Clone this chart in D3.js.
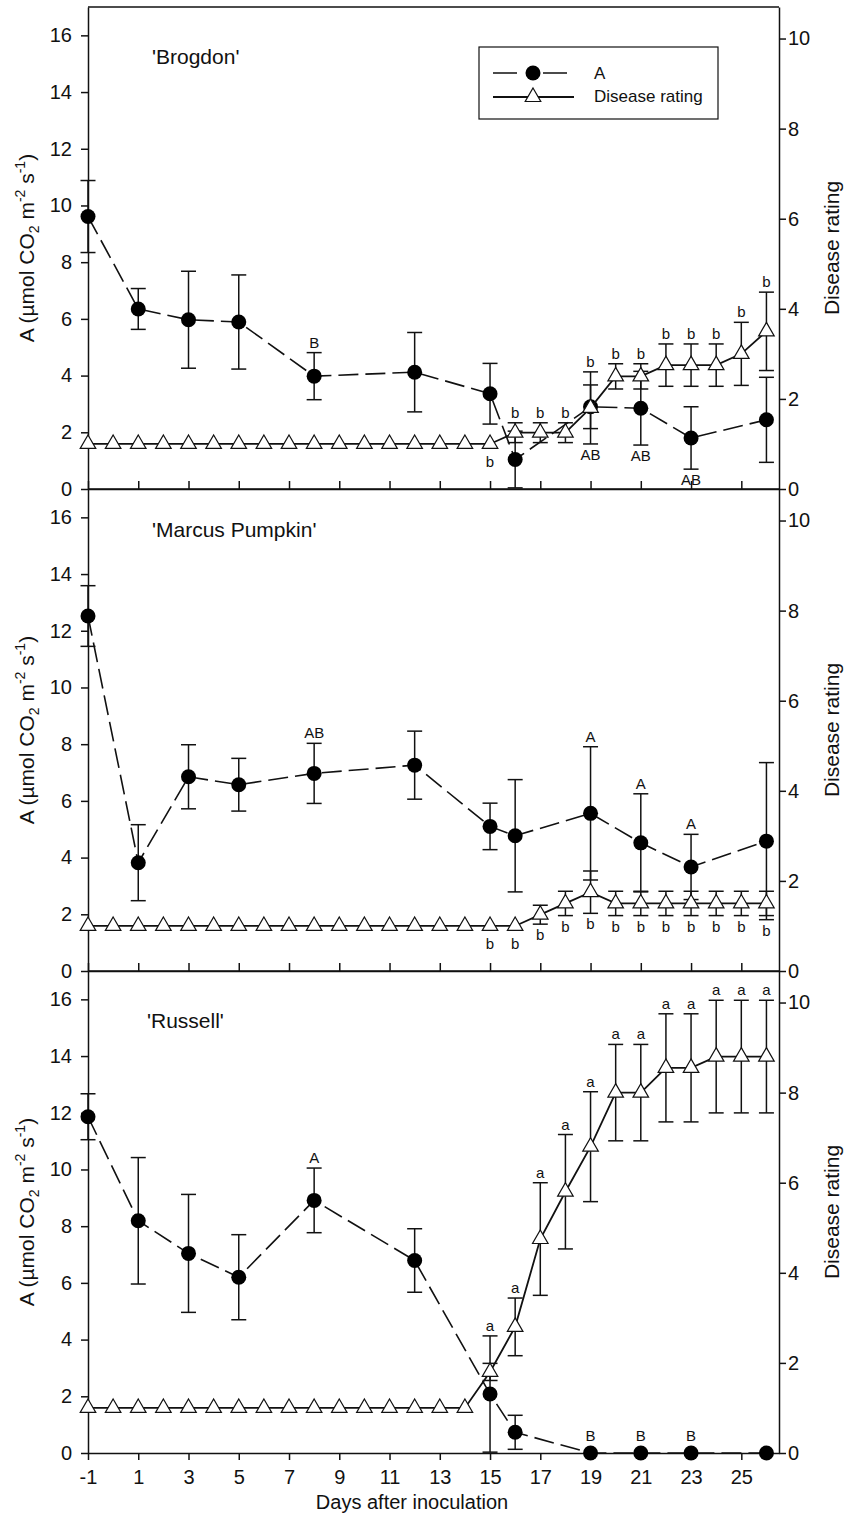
<!DOCTYPE html>
<html>
<head>
<meta charset="utf-8">
<script src="https://cdn.jsdelivr.net/npm/d3@7/dist/d3.min.js"></script>
<style>
  body { margin: 0; background: #fff; }
  svg { display: block; font-family: "Liberation Sans", Arial, sans-serif; }
</style>
</head>
<body>
<script>
// ---- data -----------------------------------------------------------
// days on which disease was rated (every day) and photosynthesis (A) measured
const ratingDays = [-1, 0, 1, 2, 3, 4, 5, 6, 7, 8, 9, 10, 11, 12, 13, 14, 15, 16, 17, 18, 19, 20, 21, 22, 23, 24, 25, 26];
const aDays = [-1, 1, 3, 5, 8, 12, 15, 16, 19, 21, 23, 26];

// tick labels
const dayTicks = [-1, 1, 3, 5, 7, 9, 11, 13, 15, 17, 19, 21, 23, 25];
const aTicks = [0, 2, 4, 6, 8, 10, 12, 14, 16];
const ratingTicks = [0, 2, 4, 6, 8, 10];

const cultivars = ["'Brogdon'", "'Marcus Pumpkin'", "'Russell'"];

// 'Brogdon'
const brogdonA = [9.61, 6.35, 5.97, 5.89, 3.98, 4.12, 3.36, 1.04, 2.9, 2.85, 1.8, 2.44];
const brogdonASE = [1.27, 0.72, 1.71, 1.66, 0.83, 1.4, 1.07, 1.0, 0.77, 1.3, 1.1, 1.5];
const brogdonRating = [1, 1, 1, 1, 1, 1, 1, 1, 1, 1, 1, 1, 1, 1, 1, 1, 1, 1.25, 1.25, 1.25, 1.8, 2.5, 2.5, 2.75, 2.75, 2.75, 3.0, 3.5];
const brogdonRatingSE = [0, 0, 0, 0, 0, 0, 0, 0, 0, 0, 0, 0, 0, 0, 0, 0, 0, 0.22, 0.22, 0.22, 0.8, 0.28, 0.28, 0.47, 0.47, 0.47, 0.7, 0.87];
const brogdonLetters = [
  [8, 'B', 'A', 'above'], [19, 'AB', 'A', 'below'], [21, 'AB', 'A', 'below'], [23, 'AB', 'A', 'below'],
  [15, 'b', 'R', 'below'], [16, 'b', 'R', 'above'], [17, 'b', 'R', 'above'], [18, 'b', 'R', 'above'],
  [19, 'b', 'R', 'above'], [20, 'b', 'R', 'above'], [21, 'b', 'R', 'above'], [22, 'b', 'R', 'above'],
  [23, 'b', 'R', 'above'], [24, 'b', 'R', 'above'], [25, 'b', 'R', 'above'], [26, 'b', 'R', 'above']
];

// 'Marcus Pumpkin'
const marcusA = [12.52, 3.82, 6.85, 6.57, 6.97, 7.26, 5.1, 4.77, 5.56, 4.52, 3.67, 4.58];
const marcusASE = [1.07, 1.34, 1.13, 0.93, 1.06, 1.2, 0.82, 1.98, 2.35, 1.73, 1.15, 2.77];
const marcusRating = [1, 1, 1, 1, 1, 1, 1, 1, 1, 1, 1, 1, 1, 1, 1, 1, 1, 1, 1.25, 1.5, 1.75, 1.5, 1.5, 1.5, 1.5, 1.5, 1.5, 1.5];
const marcusRatingSE = [0, 0, 0, 0, 0, 0, 0, 0, 0, 0, 0, 0, 0, 0, 0, 0, 0, 0, 0.21, 0.27, 0.47, 0.27, 0.27, 0.27, 0.27, 0.27, 0.27, 0.27];
const marcusLetters = [
  [8, 'AB', 'A', 'above'], [19, 'A', 'A', 'above'], [21, 'A', 'A', 'above'], [23, 'A', 'A', 'above'],
  [15, 'b', 'R', 'below'], [16, 'b', 'R', 'below'], [17, 'b', 'R', 'below'], [18, 'b', 'R', 'below'],
  [19, 'b', 'R', 'below'], [20, 'b', 'R', 'below'], [21, 'b', 'R', 'below'], [22, 'b', 'R', 'below'],
  [23, 'b', 'R', 'below'], [24, 'b', 'R', 'below'], [25, 'b', 'R', 'below'], [26, 'b', 'R', 'below']
];

// 'Russell'
const russellA = [11.86, 8.19, 7.04, 6.2, 8.91, 6.79, 2.08, 0.73, 0, 0, 0, 0];
const russellASE = [0.81, 2.23, 2.08, 1.5, 1.14, 1.12, 2.05, 0.6, 0, 0, 0, 0];
const russellRating = [1, 1, 1, 1, 1, 1, 1, 1, 1, 1, 1, 1, 1, 1, 1, 1, 1.8, 2.8, 4.75, 5.8, 6.8, 8.0, 8.0, 8.55, 8.55, 8.8, 8.8, 8.8];
const russellRatingSE = [0, 0, 0, 0, 0, 0, 0, 0, 0, 0, 0, 0, 0, 0, 0, 0, 0.19, 0.64, 1.25, 1.27, 1.22, 1.07, 1.07, 1.2, 1.2, 1.25, 1.25, 1.25];
const russellLetters = [
  [8, 'A', 'A', 'above'], [19, 'B', 'A', 'above'], [21, 'B', 'A', 'above'], [23, 'B', 'A', 'above'],
  [15, 'a', 'R', 'above'], [16, 'a', 'R', 'above'], [17, 'a', 'R', 'above'], [18, 'a', 'R', 'above'],
  [19, 'a', 'R', 'above'], [20, 'a', 'R', 'above'], [21, 'a', 'R', 'above'], [22, 'a', 'R', 'above'],
  [23, 'a', 'R', 'above'], [24, 'a', 'R', 'above'], [25, 'a', 'R', 'above'], [26, 'a', 'R', 'above']
];

const panels = [
  { a: brogdonA, aSE: brogdonASE, r: brogdonRating, rSE: brogdonRatingSE, letters: brogdonLetters },
  { a: marcusA, aSE: marcusASE, r: marcusRating, rSE: marcusRatingSE, letters: marcusLetters },
  { a: russellA, aSE: russellASE, r: russellRating, rSE: russellRatingSE, letters: russellLetters }
];

// ---- layout ---------------------------------------------------------
const W = 845, H = 1515;
const left = 88, right = 779, top0 = 7, panelH = 482;
const titlePos = [[152, 57], [152, 48], [147, 57]];
const markR = 7.5, capW = 7.5;
const ink = '#111';
const tickFont = 20;

const svg = d3.select('body').append('svg').attr('width', W).attr('height', H);

const x = d3.scaleLinear().domain([-1, 26.5]).range([left, right]);
const plain = d => String(d); // keep the ASCII hyphen in "-1"

panels.forEach((p, i) => {
  const top = top0 + i * panelH;
  const bottom = top + panelH;
  const yA = d3.scaleLinear().domain([0, 17]).range([bottom, top]);
  const yR = d3.scaleLinear().domain([0, 10.7]).range([bottom, top]);
  const g = svg.append('g');

  // axes / frame
  const styleAxis = (sel) => {
    sel.select('.domain').attr('stroke', ink).attr('stroke-width', 1.5);
    sel.selectAll('.tick line').attr('stroke', ink).attr('stroke-width', 1.5);
    sel.selectAll('.tick text').attr('fill', ink).style('font-size', tickFont + 'px');
  };

  g.append('line')
    .attr('x1', x.range()[0]).attr('x2', x.range()[1])
    .attr('y1', top).attr('y2', top)
    .attr('stroke', ink).attr('stroke-width', 1.5);

  const last = i === panels.length - 1;
  const xAxis = last
    ? d3.axisBottom(x).tickValues(dayTicks).tickFormat(plain).tickSize(7).tickPadding(10).tickSizeOuter(0)
    : d3.axisBottom(x).tickValues(dayTicks).tickSize(-8).tickFormat('').tickSizeOuter(0);
  g.append('g').attr('transform', `translate(0,${bottom})`).call(xAxis).call(styleAxis);

  g.append('g').attr('transform', `translate(${left},0)`)
    .call(d3.axisLeft(yA).tickValues(aTicks).tickFormat(plain).tickSize(7).tickPadding(9).tickSizeOuter(0))
    .call(styleAxis);

  g.append('g').attr('transform', `translate(${right},0)`)
    .call(d3.axisRight(yR).tickValues(ratingTicks).tickFormat(plain).tickSize(7).tickPadding(2).tickSizeOuter(0))
    .call(styleAxis);

  // axis titles
  const yt = g.append('text')
    .attr('transform', `translate(34,${(top + bottom) / 2}) rotate(-90)`)
    .attr('text-anchor', 'middle').attr('fill', ink).style('font-size', '21px');
  yt.append('tspan').text('A (µmol CO');
  yt.append('tspan').text('2').attr('dy', 5).style('font-size', '14px');
  yt.append('tspan').text(' m').attr('dy', -5);
  yt.append('tspan').text('-2').attr('dy', -9).style('font-size', '14px');
  yt.append('tspan').text(' s').attr('dy', 9);
  yt.append('tspan').text('-1').attr('dy', -9).style('font-size', '14px');
  yt.append('tspan').text(')').attr('dy', 9);

  g.append('text')
    .attr('transform', `translate(839,${(top + bottom) / 2}) rotate(-90)`)
    .attr('text-anchor', 'middle').attr('fill', ink).style('font-size', '21px')
    .text('Disease rating');

  // cultivar title
  g.append('text')
    .attr('x', titlePos[i][0]).attr('y', top + titlePos[i][1])
    .attr('fill', ink).style('font-size', '21px')
    .text(cultivars[i]);

  // series tables
  const aPts = aDays.map((d, k) => ({ day: d, v: p.a[k], se: p.aSE[k] }));
  const rPts = ratingDays.map((d, k) => ({ day: d, v: p.r[k], se: p.rSE[k] }));

  const errorBars = (pts, y) => {
    const eb = g.append('g').attr('stroke', ink).attr('stroke-width', 1.5);
    pts.filter(d => d.se > 0).forEach(d => {
      const cx = x(d.day), y1 = y(d.v + d.se), y2 = y(d.v - d.se);
      eb.append('line').attr('x1', cx).attr('x2', cx).attr('y1', y1).attr('y2', y2);
      eb.append('line').attr('x1', cx - capW).attr('x2', cx + capW).attr('y1', y1).attr('y2', y1);
      eb.append('line').attr('x1', cx - capW).attr('x2', cx + capW).attr('y1', y2).attr('y2', y2);
    });
  };

  // A series: dashed line with filled circles
  errorBars(aPts, yA);
  g.append('path')
    .attr('d', d3.line().x(d => x(d.day)).y(d => yA(d.v))(aPts))
    .attr('fill', 'none').attr('stroke', ink).attr('stroke-width', 1.6)
    .attr('stroke-dasharray', '20,7');
  g.selectAll(null).data(aPts).enter().append('circle')
    .attr('cx', d => x(d.day)).attr('cy', d => yA(d.v)).attr('r', markR)
    .attr('fill', '#000');

  // disease rating: solid line with open triangles
  errorBars(rPts, yR);
  g.append('path')
    .attr('d', d3.line().x(d => x(d.day)).y(d => yR(d.v))(rPts))
    .attr('fill', 'none').attr('stroke', ink).attr('stroke-width', 1.8);
  const tri = d3.symbol().type(d3.symbolTriangle).size(105);
  g.selectAll(null).data(rPts).enter().append('path')
    .attr('d', tri)
    .attr('transform', d => `translate(${x(d.day)},${yR(d.v)})`)
    .attr('fill', '#fff').attr('stroke', ink).attr('stroke-width', 1.2);

  // mean separation letters, placed clear of overlapping bars
  const span = (pts, y, day) => {
    const d = pts.find(q => q.day === day);
    if (!d) return null;
    const c = y(d.v);
    return [Math.min(y(d.v + d.se), c - markR), Math.max(y(d.v - d.se), c + markR)];
  };
  p.letters.forEach(([day, txt, series, side]) => {
    const own = series === 'A' ? span(aPts, yA, day) : span(rPts, yR, day);
    const other = series === 'A' ? span(rPts, yR, day) : span(aPts, yA, day);
    let [t, b] = own;
    if (other && other[0] <= b && other[1] >= t) {
      t = Math.min(t, other[0]);
      b = Math.max(b, other[1]);
    }
    g.append('text')
      .attr('x', x(day))
      .attr('y', side === 'above' ? t - 5 : b + 16)
      .attr('text-anchor', 'middle').attr('fill', ink)
      .style('font-size', '15px')
      .text(txt);
  });
});

// x axis title
svg.append('text')
  .attr('x', 412).attr('y', 1509)
  .attr('text-anchor', 'middle').attr('fill', ink).style('font-size', '20px')
  .text('Days after inoculation');

// legend
const lg = svg.append('g');
lg.append('rect').attr('x', 479).attr('y', 47).attr('width', 239).attr('height', 72)
  .attr('fill', '#fff').attr('stroke', ink).attr('stroke-width', 1.2);
lg.append('line').attr('x1', 493).attr('x2', 567).attr('y1', 73).attr('y2', 73)
  .attr('stroke', ink).attr('stroke-width', 1.6).attr('stroke-dasharray', '24,26,24');
lg.append('circle').attr('cx', 533).attr('cy', 73).attr('r', markR).attr('fill', '#000');
lg.append('line').attr('x1', 493).attr('x2', 574).attr('y1', 97).attr('y2', 97)
  .attr('stroke', ink).attr('stroke-width', 1.8);
lg.append('path').attr('d', d3.symbol().type(d3.symbolTriangle).size(105))
  .attr('transform', 'translate(533,97)')
  .attr('fill', '#fff').attr('stroke', ink).attr('stroke-width', 1.2);
lg.append('text').attr('x', 594).attr('y', 79).attr('fill', ink).style('font-size', '17px').text('A');
lg.append('text').attr('x', 594).attr('y', 102).attr('fill', ink).style('font-size', '17px').text('Disease rating');
</script>
</body>
</html>
